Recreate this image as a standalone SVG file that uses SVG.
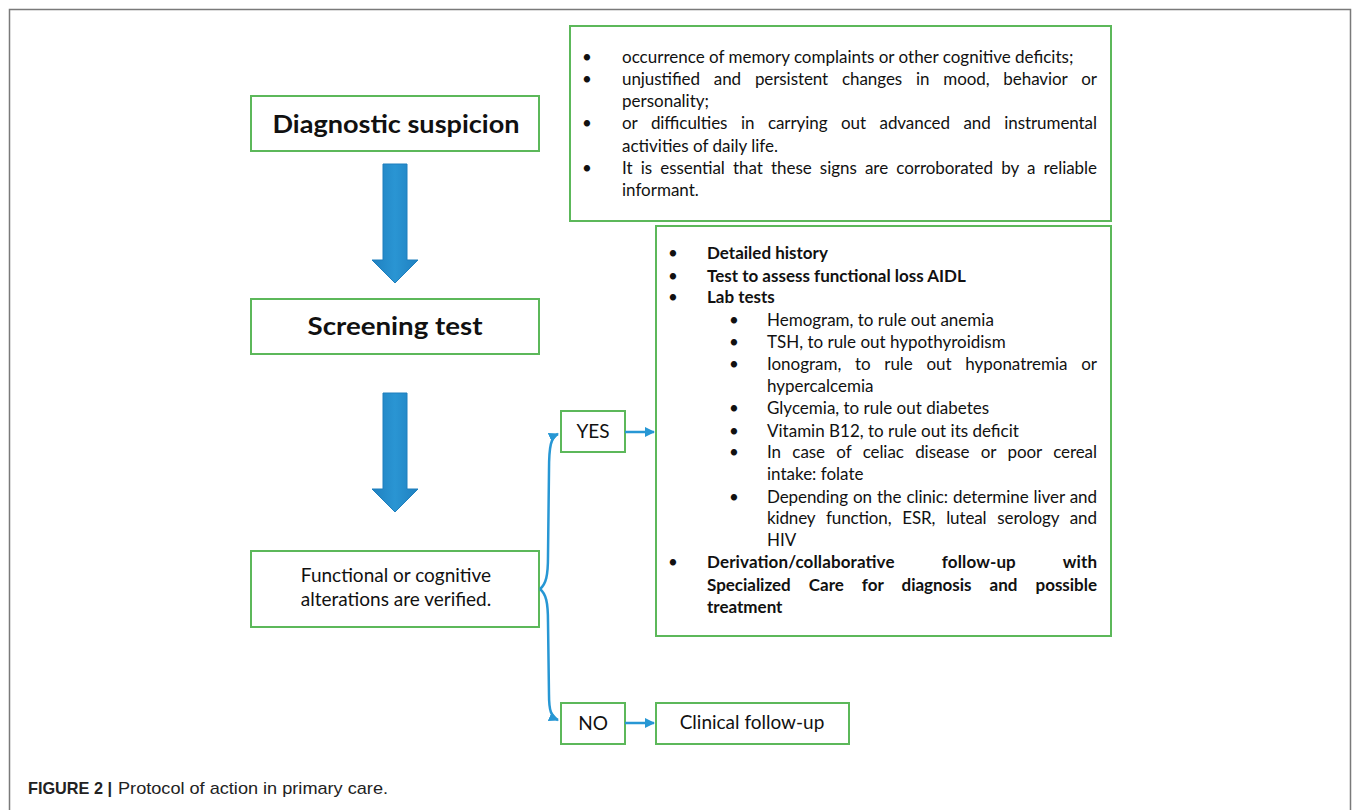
<svg xmlns="http://www.w3.org/2000/svg" width="1355" height="810" viewBox="0 0 1355 810">
<defs>
<style>
.box{fill:#fff;stroke:#5cb85a;stroke-width:2}
.t{font-family:Lato,"Open Sans",sans-serif;font-size:17px;fill:#111}
.b{font-weight:bold}
.big{font-family:Lato,"Open Sans",sans-serif;font-weight:bold;fill:#111}
.mid{font-family:Lato,"Open Sans",sans-serif;font-size:19px;fill:#111}
.conn{fill:none;stroke:#2797d4;stroke-width:2.5}
.cap{font-family:"Liberation Sans",Arial,sans-serif;font-size:17px;fill:#222}
</style>
<marker id="ah" viewBox="0 0 10 10" refX="9" refY="5" markerWidth="4" markerHeight="4" orient="auto" markerUnits="strokeWidth">
<path d="M0,0 L10,5 L0,10 z" fill="#2797d4"/>
</marker>
<linearGradient id="ag" x1="0" y1="0" x2="1" y2="0">
<stop offset="0" stop-color="#1f80c0"/>
<stop offset="0.5" stop-color="#2a95d3"/>
<stop offset="1" stop-color="#1f80c0"/>
</linearGradient>
</defs>
<rect width="1355" height="810" fill="#fff"/>
<path d="M9.5,812 V9.5 H1350.5 V812" fill="none" stroke="#7a7a7a" stroke-width="1.5"/>

<g id="diagnostic-suspicion">
<rect class="box" x="251" y="96" width="288" height="55"/>
<text class="big" x="396" y="133" font-size="25" text-anchor="middle" textLength="247" lengthAdjust="spacingAndGlyphs">Diagnostic suspicion</text>
</g>
<g id="arrow-1">
<path d="M383,164 H407 V260 H418 L395,283 L372,260 H383 Z" fill="url(#ag)" stroke="#1f7fbd" stroke-width="1"/>
</g>
<g id="screening-test">
<rect class="box" x="251" y="299" width="288" height="55"/>
<text class="big" x="395" y="335" font-size="24" text-anchor="middle" textLength="175" lengthAdjust="spacingAndGlyphs">Screening test</text>
</g>
<g id="arrow-2">
<path d="M383,393 H407 V489 H418 L395,512 L372,489 H383 Z" fill="url(#ag)" stroke="#1f7fbd" stroke-width="1"/>
</g>
<g id="functional-alterations">
<rect class="box" x="251" y="551" width="288" height="76"/>
<text class="mid" x="396" y="582" text-anchor="middle">Functional or cognitive</text>
<text class="mid" x="396" y="606" text-anchor="middle">alterations are verified.</text>
</g>
<g id="yes">
<rect class="box" x="561" y="411" width="64" height="41"/>
<text class="mid" x="593" y="438" text-anchor="middle">YES</text>
</g>
<g id="no">
<rect class="box" x="561" y="703" width="64" height="41"/>
<text class="mid" x="593" y="730" text-anchor="middle">NO</text>
</g>
<g id="clinical-follow-up">
<rect class="box" x="656" y="703" width="193" height="41"/>
<text class="mid" x="752" y="729" text-anchor="middle">Clinical follow-up</text>
</g>

<g id="signs-box">
<rect class="box" x="570" y="26" width="541" height="195"/>
<g class="t">
<text x="582" y="63">•</text><text x="622" y="63">occurrence of memory complaints or other cognitive deficits;</text>
<text x="582" y="85">•</text><text x="622" y="85" word-spacing="9.6" textLength="475" lengthAdjust="spacing">unjustified and persistent changes in mood, behavior or</text>
<text x="622" y="107">personality;</text>
<text x="582" y="129">•</text><text x="622" y="129" word-spacing="9.3" textLength="475" lengthAdjust="spacing">or difficulties in carrying out advanced and instrumental</text>
<text x="622" y="152">activities of daily life.</text>
<text x="582" y="174">•</text><text x="622" y="174" word-spacing="3.9" textLength="475" lengthAdjust="spacing">It is essential that these signs are corroborated by a reliable</text>
<text x="622" y="196">informant.</text>
</g>
</g>

<g id="workup-box">
<rect class="box" x="656" y="226" width="455" height="410"/>
<g class="t">
<text x="668" y="259">•</text><text class="b" x="707" y="259">Detailed history</text>
<text x="668" y="282">•</text><text class="b" x="707" y="282">Test to assess functional loss AIDL</text>
<text x="668" y="303">•</text><text class="b" x="707" y="303">Lab tests</text>
<text x="729" y="326">•</text><text x="767" y="326">Hemogram, to rule out anemia</text>
<text x="729" y="348">•</text><text x="767" y="348">TSH, to rule out hypothyroidism</text>
<text x="729" y="370">•</text><text x="767" y="370" word-spacing="9.3" textLength="330" lengthAdjust="spacing">Ionogram, to rule out hyponatremia or</text>
<text x="767" y="392">hypercalcemia</text>
<text x="729" y="414">•</text><text x="767" y="414">Glycemia, to rule out diabetes</text>
<text x="729" y="437">•</text><text x="767" y="437">Vitamin B12, to rule out its deficit</text>
<text x="729" y="458">•</text><text x="767" y="458" word-spacing="7.1" textLength="330" lengthAdjust="spacing">In case of celiac disease or poor cereal</text>
<text x="767" y="480">intake: folate</text>
<text x="729" y="503">•</text><text x="767" y="503" word-spacing="0.8" textLength="330" lengthAdjust="spacing">Depending on the clinic: determine liver and</text>
<text x="767" y="524" word-spacing="6.7" textLength="330" lengthAdjust="spacing">kidney function, ESR, luteal serology and</text>
<text x="767" y="546">HIV</text>
<text x="668" y="568">•</text><text class="b" x="707" y="568" word-spacing="43" textLength="390" lengthAdjust="spacing">Derivation/collaborative follow-up with</text>
<text class="b" x="707" y="591" word-spacing="14" textLength="390" lengthAdjust="spacing">Specialized Care for diagnosis and possible</text>
<text class="b" x="707" y="613">treatment</text>
</g>
</g>

<g id="connectors">
<path class="conn" d="M540,589 C546,584 548,576 548,556 L549,470 C549,446 551,437 558,434" marker-end="url(#ah)"/>
<path class="conn" d="M540,589 C546,594 548,602 548,622 L549,695 C549,710 551,717 558,720" marker-end="url(#ah)"/>
<path class="conn" d="M625,432 H654" marker-end="url(#ah)"/>
<path class="conn" d="M625,723 H654" marker-end="url(#ah)"/>
</g>

<g id="caption">
<text class="cap" y="794"><tspan x="28" font-weight="bold" textLength="84" lengthAdjust="spacingAndGlyphs">FIGURE 2 |</tspan><tspan x="118" textLength="270" lengthAdjust="spacingAndGlyphs">Protocol of action in primary care.</tspan></text>
</g>
</svg>
